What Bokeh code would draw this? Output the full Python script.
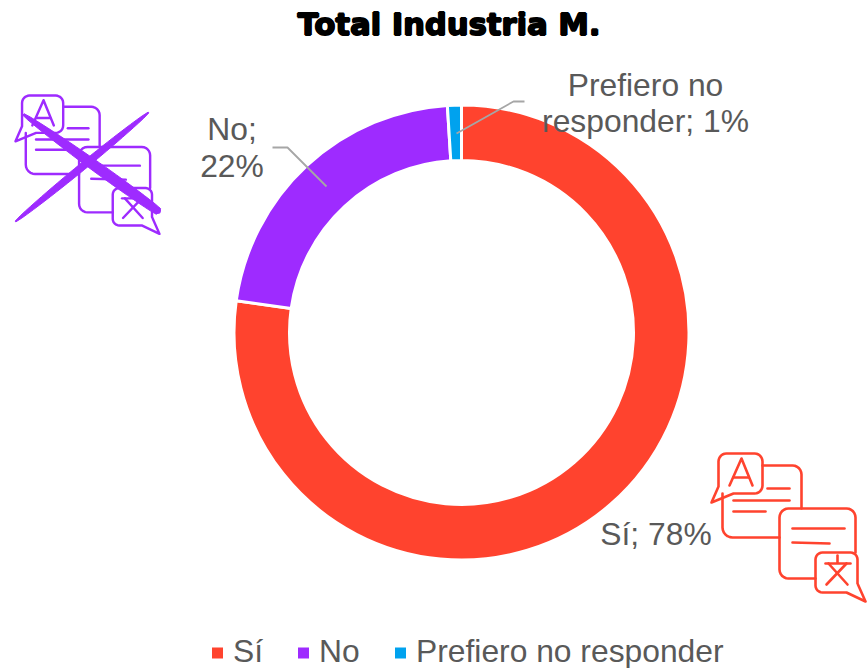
import math
from bokeh.plotting import figure
from bokeh.embed import file_html
from bokeh.resources import INLINE
from bokeh.core.properties import value

TITLE = "Total Industria M."
categories = ["Sí", "No", "Prefiero no responder"]
values = [78, 22, 1]
colors = ["#FF432E", "#9E2BFF", "#00A2EE"]
TXT = "#595959"
GRID = "#A6A6A6"

W, H = 867, 668
def Y(py):
    return H - py

p = figure(width=W, height=H, x_range=(0, W), y_range=(0, H),
           output_backend="svg", toolbar_location=None,
           min_border=0, min_border_left=0, min_border_right=0,
           min_border_top=0, min_border_bottom=0)
p.axis.visible = False
p.grid.visible = False
p.outline_line_color = None

# donut
cx, cy, ro, ri = 461, Y(332), 227.5, 172
total = sum(values)
acc = 0
for v, c in zip(values, colors):
    a0 = math.pi / 2 - 2 * math.pi * (acc + v) / total
    a1 = math.pi / 2 - 2 * math.pi * acc / total
    p.annular_wedge(x=cx, y=cy, inner_radius=ri, outer_radius=ro,
                    start_angle=a0, end_angle=a1, fill_color=c,
                    line_color="white", line_width=3)
    acc += v

# leaders
p.line([456, 513, 524], [Y(133), Y(101), Y(101)], line_color=GRID, line_width=1.8)
p.line([326, 287, 272], [Y(186), Y(147), Y(147)], line_color=GRID, line_width=1.8)

FS = "31.8px"
def txt(x, py, s, size=FS, color=TXT, align="center", style="normal", font="Liberation Sans"):
    p.text(x=[x], y=[Y(py)], text=[s], text_font=value(font),
           text_font_size=value(size), text_color=color, text_align=align,
           text_baseline="middle", text_font_style=style)

# title (outlined heavy look)
for dx, dy in [(-0.9, 0), (0.9, 0), (0, -0.9), (0, 0.9), (0, 0)]:
    txt(448.5 + dx, 24 + dy, TITLE, size="30.6px", color="black", style="bold", font="DejaVu Sans")

# data labels
txt(645, 84, "Prefiero no")
txt(645, 120, f"responder; {values[2]}%")
txt(231.5, 128, "No;")
txt(231.5, 165, f"{values[1]}%")
txt(655.5, 533, f"Sí; {values[0]}%")

# legend
for sx, c, s in zip([217, 303, 400], colors, categories):
    p.scatter(x=[sx], y=[Y(652.5)], marker="square", size=11, fill_color=c, line_color=None)
    txt(sx + 15.5, 650, s, align="left")

# icon
def arc(cxx, cyy, r, a, n=6):
    return [(cxx + r * math.cos(math.radians(a + 90 * i / n)),
             cyy + r * math.sin(math.radians(a + 90 * i / n))) for i in range(n + 1)]

def icon(ox, oy, s, color):
    bubble_a = ([(0, 49), (22, 40)] + arc(43, 32, 8, 0)[::-1] + arc(43, 8, 8, -90)[::-1]
                + arc(15, 8, 8, 180)[::-1] + [(7, 33), (0, 49)])
    doc1 = [(51, 12)] + arc(81, 21, 9, -90) + [(90, 55)]
    doc1b = [(11, 40)] + arc(21, 74, 10, 90)[::-1] + [(68, 84)]
    doc2 = ([(144, 99)] + arc(135, 64, 9, -90)[::-1] + arc(77, 64, 9, 180)[::-1]
            + arc(77, 116, 9, 90)[::-1] + [(104, 125)])
    small = ([(146, 130), (154, 148), (135, 139)] + arc(111, 132, 7, 90)
             + arc(111, 106, 7, 180) + arc(139, 106, 7, -90) + [(146, 130)])
    strokes = [bubble_a, doc1, doc1b, doc2, small,
               [(56, 35), (78, 35)], [(22, 47), (78, 47)], [(22, 58), (54, 58)],
               [(81, 75), (133, 75)], [(81, 89), (118, 90)],
               [(18, 32), (30, 5), (41, 32)], [(22, 24), (37, 24)],
               [(126, 102), (126, 109)], [(114, 110), (139, 110)],
               [(117, 110), (136, 131)], [(135, 110), (115, 131)]]
    p.multi_line([[ox + s * a for a, b in st] for st in strokes],
                 [[Y(oy + s * b) for a, b in st] for st in strokes],
                 line_color=color, line_width=2.6 * s, line_cap="round", line_join="round")

icon(711, 453, 1, colors[0])
icon(15, 95, 0.935, colors[1])

# cross on the purple icon: two tapered strokes
def lens(x0, y0, x1, y1, w0, w1, wm):
    L = math.hypot(x1 - x0, y1 - y0)
    nx, ny = -(y1 - y0) / L, (x1 - x0) / L
    xs, ys, back = [], [], []
    for i in range(25):
        t = i / 24
        w = (w0 * (1 - t) + w1 * t) + (wm - (w0 + w1) / 2) * math.sin(math.pi * t) ** 0.6
        mx, my = x0 + (x1 - x0) * t, y0 + (y1 - y0) * t
        xs.append(mx + nx * w / 2); ys.append(Y(my + ny * w / 2))
        back.append((mx - nx * w / 2, Y(my - ny * w / 2)))
    for a, b in back[::-1]:
        xs.append(a); ys.append(b)
    return xs, ys

x, y = lens(23, 114, 158, 211, 2, 7, 10)
p.patch(x, y, fill_color=colors[1], line_color=colors[1], line_width=1)
p.scatter(x=[157], y=[Y(210)], marker="circle", size=7, fill_color=colors[1], line_color=None)
x, y = lens(148, 112, 15, 221, 1, 1, 7)
p.patch(x, y, fill_color=colors[1], line_color=colors[1], line_width=1)

open("out.html", "w").write(file_html(p, INLINE))
